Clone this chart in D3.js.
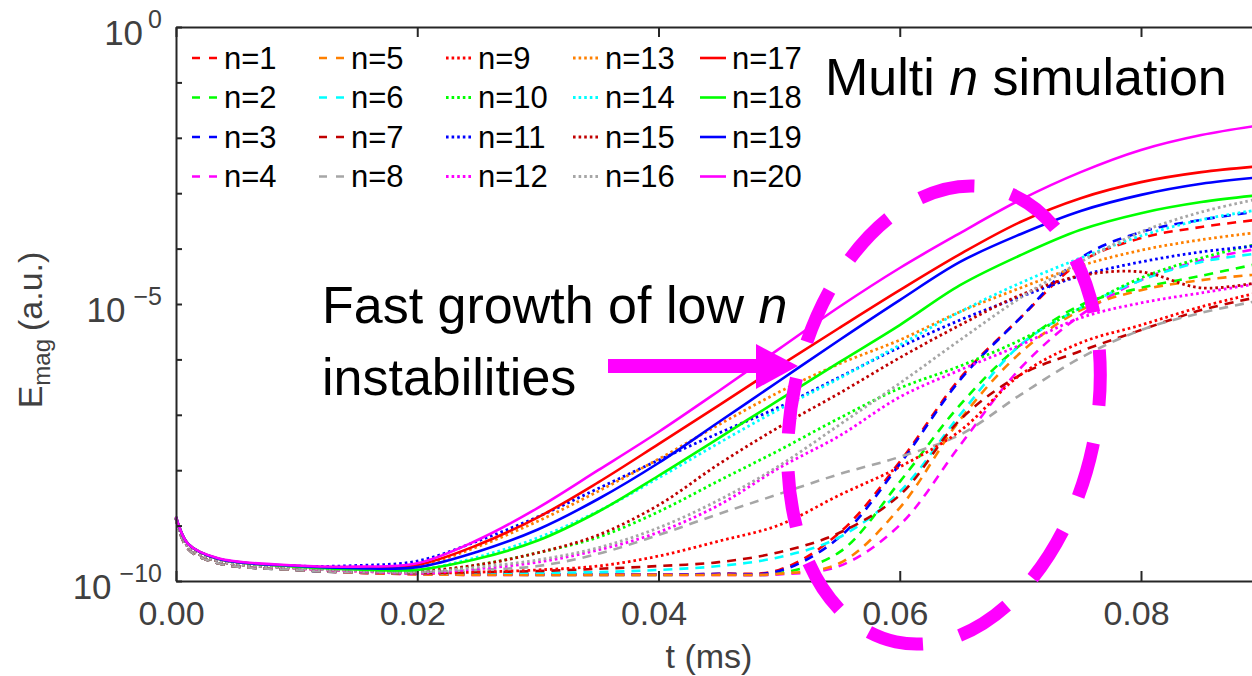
<!DOCTYPE html>
<html>
<head>
<meta charset="utf-8">
<script src="https://cdn.jsdelivr.net/npm/d3@7"></script>
<style>
  body { margin: 0; background: #fff; }
  svg { display: block; font-family: "Liberation Sans", Arial, Helvetica, sans-serif; }
</style>
</head>
<body>
<div id="chart"></div>
<script>
// time samples (ms)
const tMs = [0, 0.001, 0.0035, 0.01, 0.015, 0.02, 0.025, 0.03, 0.035, 0.04,
             0.045, 0.05, 0.055, 0.06, 0.065, 0.07, 0.075, 0.08, 0.085, 0.09];

// log10(E_mag), one array per toroidal mode number
const n1  = [-8.88, -9.42, -9.68, -9.80, -9.85, -9.87, -9.88, -9.88, -9.88, -9.88, -9.87, -9.80, -9.13, -7.85, -6.34, -5.25, -4.24, -3.81, -3.61, -3.47];
const n2  = [-8.88, -9.42, -9.68, -9.80, -9.85, -9.87, -9.88, -9.89, -9.89, -9.89, -9.88, -9.86, -9.48, -8.21, -6.82, -5.74, -5.02, -4.71, -4.49, -4.26];
const n3  = [-8.88, -9.42, -9.68, -9.80, -9.85, -9.87, -9.88, -9.88, -9.88, -9.88, -9.87, -9.82, -9.21, -7.89, -6.37, -5.25, -4.17, -3.70, -3.48, -3.32];
const n4  = [-8.88, -9.42, -9.68, -9.80, -9.85, -9.88, -9.89, -9.89, -9.89, -9.89, -9.89, -9.88, -9.73, -8.99, -7.55, -6.16, -5.20, -4.57, -4.21, -3.99];
const n5  = [-8.88, -9.42, -9.68, -9.80, -9.85, -9.88, -9.89, -9.89, -9.89, -9.89, -9.89, -9.87, -9.68, -8.68, -7.09, -5.88, -5.11, -4.75, -4.57, -4.46];
const n6  = [-8.88, -9.42, -9.68, -9.80, -9.84, -9.86, -9.85, -9.85, -9.84, -9.80, -9.73, -9.57, -9.21, -8.39, -7.00, -5.74, -5.07, -4.57, -4.24, -4.08];
const n7  = [-8.88, -9.42, -9.68, -9.80, -9.84, -9.86, -9.84, -9.82, -9.78, -9.73, -9.66, -9.48, -9.13, -8.45, -7.09, -6.28, -5.85, -5.47, -5.11, -4.86];
const n8  = [-8.88, -9.42, -9.68, -9.80, -9.84, -9.84, -9.80, -9.73, -9.51, -9.17, -8.79, -8.43, -8.07, -7.76, -7.36, -6.64, -5.97, -5.47, -5.16, -4.93];
const n9  = [-8.86, -9.38, -9.64, -9.77, -9.82, -9.86, -9.84, -9.80, -9.73, -9.55, -9.28, -8.99, -8.45, -7.94, -7.29, -6.28, -5.70, -5.38, -5.05, -4.78];
const n10 = [-8.86, -9.38, -9.64, -9.76, -9.80, -9.84, -9.71, -9.49, -9.21, -8.75, -8.19, -7.64, -7.06, -6.52, -6.12, -5.65, -5.07, -4.53, -4.17, -3.90];
const n11 = [-8.86, -9.38, -9.63, -9.73, -9.72, -9.64, -9.28, -8.84, -8.33, -7.82, -7.33, -6.86, -6.32, -5.78, -5.29, -4.87, -4.49, -4.24, -4.06, -3.94];
const n12 = [-8.86, -9.38, -9.64, -9.77, -9.82, -9.86, -9.78, -9.66, -9.44, -9.12, -8.63, -7.96, -7.38, -6.68, -6.19, -5.74, -5.25, -4.98, -4.80, -4.62];
const n13 = [-8.86, -9.38, -9.64, -9.75, -9.77, -9.73, -9.38, -8.92, -8.38, -7.80, -7.18, -6.59, -6.08, -5.65, -5.14, -4.71, -4.31, -4.03, -3.84, -3.70];
const n14 = [-8.86, -9.38, -9.64, -9.76, -9.79, -9.80, -9.57, -9.22, -8.74, -8.14, -7.51, -6.90, -6.34, -5.74, -5.14, -4.62, -4.17, -3.77, -3.48, -3.29];
const n15 = [-8.86, -9.38, -9.64, -9.76, -9.80, -9.82, -9.71, -9.49, -9.17, -8.63, -7.89, -7.22, -6.61, -5.97, -5.38, -4.84, -4.49, -4.42, -4.71, -4.60];
const n16 = [-8.86, -9.38, -9.64, -9.77, -9.81, -9.84, -9.75, -9.62, -9.40, -9.04, -8.54, -7.92, -7.18, -6.43, -5.65, -4.89, -4.24, -3.70, -3.34, -3.09];
const n17 = [-8.84, -9.33, -9.60, -9.73, -9.76, -9.71, -9.35, -8.85, -8.22, -7.53, -6.83, -6.12, -5.43, -4.75, -4.10, -3.52, -3.09, -2.80, -2.62, -2.51];
const n18 = [-8.84, -9.33, -9.60, -9.74, -9.79, -9.80, -9.60, -9.27, -8.75, -8.10, -7.42, -6.73, -6.05, -5.38, -4.66, -4.12, -3.66, -3.36, -3.16, -3.03];
const n19 = [-8.84, -9.33, -9.60, -9.73, -9.77, -9.75, -9.47, -9.07, -8.52, -7.87, -7.13, -6.39, -5.65, -4.93, -4.24, -3.74, -3.32, -3.03, -2.83, -2.71];
const n20 = [-8.84, -9.33, -9.59, -9.72, -9.74, -9.68, -9.26, -8.68, -8.00, -7.31, -6.57, -5.81, -5.05, -4.35, -3.72, -3.12, -2.62, -2.22, -1.95, -1.77];

const seriesLabels = d3.range(1, 21).map(n => "n=" + n);
const seriesValues = [n1, n2, n3, n4, n5, n6, n7, n8, n9, n10,
                      n11, n12, n13, n14, n15, n16, n17, n18, n19, n20];

const xTicks = [0, 0.02, 0.04, 0.06, 0.08];
const yDecades = d3.range(-10, 1).map(p => Math.pow(10, p));
const yLabelled = [0, -5, -10];

// styling
const palette = ["#ff0000", "#00ff00", "#0000ff", "#ff00ff",
                 "#ff8000", "#00ffff", "#c00000", "#a6a6a6"];
const styleOf = i => {
    if (i < 8) return {color: palette[i], dash: "9,7", width: 2.6};
    if (i < 16) return {color: palette[i - 8], dash: "2.6,3", width: 2.8};
    return {color: palette[i - 16], dash: null, width: 2.6};
};

const W = 1252, H = 676;
const plot = {left: 176, top: 27, bottom: 581};
const axisColor = "#262626", labelColor = "#404040";

const svg = d3.select("#chart").append("svg")
    .attr("width", W).attr("height", H);

const x = d3.scaleLinear().domain([0, 0.09]).range([plot.left, plot.left + 0.09 * 12062.5]);
const y = d3.scaleLog().domain([1e-10, 1]).range([plot.bottom, plot.top]);

// curves
const line = d3.line()
    .x(d => x(d.t))
    .y(d => y(d.v))
    .curve(d3.curveCatmullRom.alpha(0.5));

const curves = svg.append("g");
seriesValues.forEach((vals, i) => {
    const st = styleOf(i);
    const pts = tMs.map((t, k) => ({t: t, v: Math.pow(10, vals[k])}));
    curves.append("path")
        .datum(pts)
        .attr("d", line)
        .attr("fill", "none")
        .attr("stroke", st.color)
        .attr("stroke-width", st.width)
        .attr("stroke-dasharray", st.dash);
});

// axes
const styleAxis = g => {
    g.selectAll(".domain, line").attr("stroke", axisColor).attr("stroke-width", 2);
    g.selectAll("text").attr("fill", labelColor).attr("font-size", 34)
        .attr("font-family", '"Liberation Sans", Arial, sans-serif');
};

svg.append("g")
    .attr("transform", `translate(0,${plot.bottom})`)
    .call(d3.axisBottom(x).tickValues(xTicks).tickFormat(d3.format(".2f"))
        .tickSizeInner(-10).tickSizeOuter(0).tickPadding(20))
    .call(styleAxis)
    .call(g => g.selectAll("text").attr("dx", -5));

svg.append("g")
    .attr("transform", `translate(0,${plot.top})`)
    .call(d3.axisTop(x).tickValues(xTicks).tickFormat("")
        .tickSizeInner(-10).tickSizeOuter(0))
    .call(styleAxis);

svg.append("g")
    .attr("transform", `translate(${plot.left},0)`)
    .call(d3.axisLeft(y).tickValues(yDecades).tickFormat("")
        .tickSizeInner(-6).tickSizeOuter(0))
    .call(styleAxis);

svg.append("g")
    .attr("transform", `translate(${x(0.09)},0)`)
    .call(d3.axisRight(y).tickValues(yDecades).tickFormat("")
        .tickSizeInner(-6).tickSizeOuter(0))
    .call(styleAxis);

// y tick labels 10^p
yLabelled.forEach(p => {
    const t = svg.append("text")
        .attr("x", plot.left - 14)
        .attr("y", y(Math.pow(10, p)) + 18)
        .attr("text-anchor", "end")
        .attr("fill", labelColor)
        .attr("font-size", 35);
    t.append("tspan").text("10");
    t.append("tspan").attr("font-size", 25).attr("dy", -17)
        .attr("dx", p < 0 ? 8 : 5)
        .text(p < 0 ? "\u2212" + (-p) : p);
});

// axis titles
svg.append("text")
    .attr("x", 709).attr("y", 668)
    .attr("text-anchor", "middle")
    .attr("fill", labelColor)
    .attr("font-size", 34)
    .text("t (ms)");

const yt = svg.append("text")
    .attr("transform", "translate(42,330) rotate(-90)")
    .attr("text-anchor", "middle")
    .attr("fill", labelColor)
    .attr("font-size", 34);
yt.append("tspan").text("E");
yt.append("tspan").attr("font-size", 24).attr("dy", 8).text("mag");
yt.append("tspan").attr("dy", -8).attr("dx", 8).text("(a.u.)");

// legend
const legend = svg.append("g");
seriesLabels.forEach((lab, i) => {
    const st = styleOf(i);
    const col = Math.floor(i / 4), row = i % 4;
    const lx = 192 + col * 127, ly = 58 + row * 39.5;
    legend.append("line")
        .attr("x1", lx).attr("x2", lx + 26)
        .attr("y1", ly).attr("y2", ly)
        .attr("stroke", st.color)
        .attr("stroke-width", st.width)
        .attr("stroke-dasharray", st.dash ? (i < 8 ? "8,9" : "2.6,3") : null);
    legend.append("text")
        .attr("x", lx + 32).attr("y", ly + 10.5)
        .attr("font-size", 31)
        .attr("fill", "#000")
        .text(lab);
});

// annotations
const title = svg.append("text")
    .attr("x", 825).attr("y", 95)
    .attr("font-size", 52)
    .attr("fill", "#000");
title.append("tspan").text("Multi ");
title.append("tspan").attr("font-style", "italic").text("n");
title.append("tspan").text(" simulation");

const note1 = svg.append("text")
    .attr("x", 322).attr("y", 323)
    .attr("font-size", 52)
    .attr("fill", "#000");
note1.append("tspan").text("Fast growth of low ");
note1.append("tspan").attr("font-style", "italic").text("n");
svg.append("text")
    .attr("x", 322).attr("y", 395)
    .attr("font-size", 52)
    .attr("fill", "#000")
    .text("instabilities");

const magenta = "#ff00ff";
svg.append("rect")
    .attr("x", 608).attr("y", 359)
    .attr("width", 152).attr("height", 14)
    .attr("fill", magenta);
svg.append("path")
    .attr("d", "M756,344 L798,366 L756,389 Z")
    .attr("fill", magenta);

svg.append("ellipse")
    .attr("transform", "translate(944,415) rotate(12)")
    .attr("rx", 152).attr("ry", 232)
    .attr("fill", "none")
    .attr("stroke", magenta)
    .attr("stroke-width", 13)
    .attr("stroke-dasharray", "56,37.8")
    .attr("stroke-dashoffset", 4);
</script>
</body>
</html>
